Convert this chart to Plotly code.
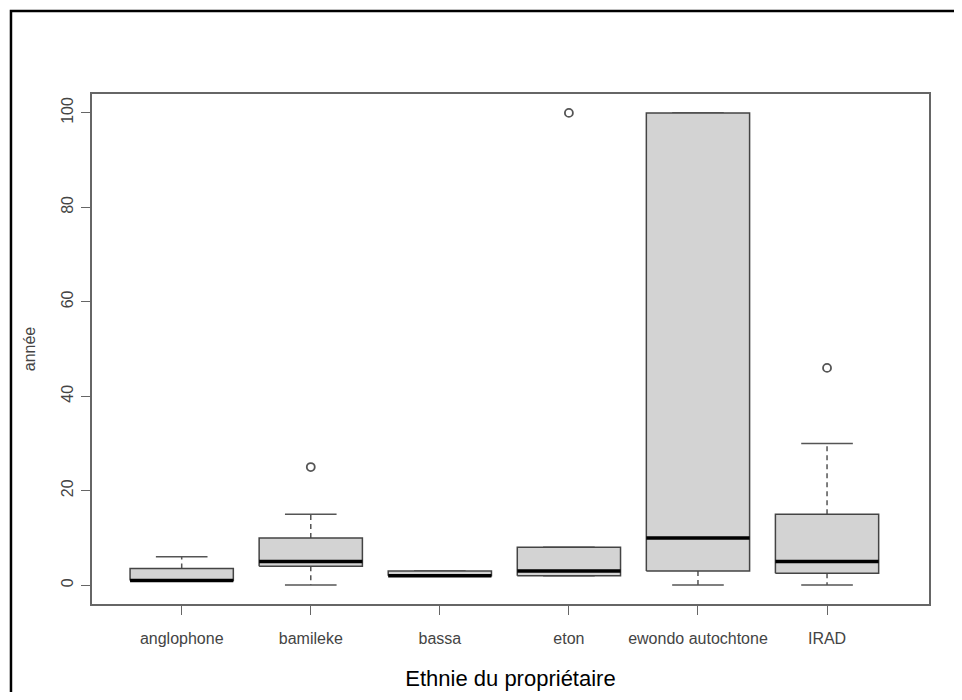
import plotly.graph_objects as go

categories = ["anglophone", "bamileke", "bassa", "eton", "ewondo autochtone", "IRAD"]
lower_whisker = [1, 0, 2, 2, 0, 0]
q1_values = [1, 4, 2, 2, 3, 2.5]
median_values = [1, 5, 2, 3, 10, 5]
q3_values = [3.5, 10, 3, 8, 100, 15]
upper_whisker = [6, 15, 3, 8, 100, 30]
outlier_groups = ["bamileke", "eton", "IRAD"]
outlier_values = [25, 100, 46]

y_ticks = [0, 20, 40, 60, 80, 100]

half_box = 0.4
half_cap = 0.2

positions = list(range(1, len(categories) + 1))

box_x, box_y = [], []
med_x, med_y = [], []
wh_x, wh_y = [], []
cap_x, cap_y = [], []
for p, lo, a, m, b, hi in zip(positions, lower_whisker, q1_values, median_values, q3_values, upper_whisker):
    box_x += [p - half_box, p + half_box, p + half_box, p - half_box, p - half_box, None]
    box_y += [a, a, b, b, a, None]
    med_x += [p - half_box, p + half_box, None]
    med_y += [m, m, None]
    wh_x += [p, p, None, p, p, None]
    wh_y += [b, hi, None, a, lo, None]
    cap_x += [p - half_cap, p + half_cap, None, p - half_cap, p + half_cap, None]
    cap_y += [hi, hi, None, lo, lo, None]

out_x = [categories.index(g) + 1 for g in outlier_groups]

fig = go.Figure()
fig.add_trace(go.Scatter(x=wh_x, y=wh_y, mode="lines",
                         line=dict(color="#555555", width=1.5, dash="5px,4px"),
                         hoverinfo="skip", showlegend=False))
fig.add_trace(go.Scatter(x=cap_x, y=cap_y, mode="lines",
                         line=dict(color="#555555", width=1.5),
                         hoverinfo="skip", showlegend=False))
fig.add_trace(go.Scatter(x=box_x, y=box_y, mode="lines", fill="toself",
                         fillcolor="#D3D3D3", line=dict(color="#444444", width=1.5),
                         hoverinfo="skip", showlegend=False))
fig.add_trace(go.Scatter(x=med_x, y=med_y, mode="lines",
                         line=dict(color="black", width=3.5),
                         hoverinfo="skip", showlegend=False))
fig.add_trace(go.Scatter(x=out_x, y=outlier_values, mode="markers",
                         marker=dict(symbol="circle-open", size=8,
                                     color="#555555", line=dict(width=1.8)),
                         showlegend=False))

fam = "Liberation Sans, Arial, sans-serif"
tick_font = dict(family=fam, size=16, color="#444444")

fig.update_layout(
    width=946, height=684,
    margin=dict(l=84, r=25, t=86, b=88),
    paper_bgcolor="white", plot_bgcolor="white",
    font=tick_font,
    xaxis=dict(
        range=[0.305, 6.79],
        tickvals=positions, ticktext=categories,
        automargin=False,
        showgrid=False, zeroline=False,
        showline=True, mirror=True, linecolor="#666666", linewidth=2,
        ticks="outside", ticklen=9, tickcolor="#666666", tickwidth=1.2,
        ticklabelstandoff=10,
        tickfont=tick_font,
        title=dict(text="Ethnie du propriétaire",
                   font=dict(family=fam, size=22, color="black"),
                   standoff=24),
    ),
    yaxis=dict(
        range=[-4, 104],
        tickvals=y_ticks, ticktext=[str(v) for v in y_ticks],
        tickangle=-90,
        automargin=False,
        showgrid=False, zeroline=False,
        showline=True, mirror=True, linecolor="#666666", linewidth=2,
        ticks="outside", ticklen=9, tickcolor="#666666", tickwidth=1.2,
        ticklabelstandoff=2,
        tickfont=tick_font,
        title=dict(text="année",
                   font=dict(family=fam, size=16, color="#444444"),
                   standoff=19),
    ),
    shapes=[dict(type="rect", xref="paper", yref="paper",
                 x0=-0.0968, x1=1.2, y0=-0.4, y1=1.1627,
                 line=dict(color="black", width=2.5), fillcolor="rgba(0,0,0,0)",
                 layer="below")],
)

fig.write_html("out.html")
